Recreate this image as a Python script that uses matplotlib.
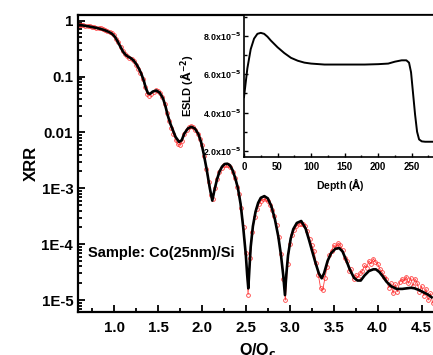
import numpy as np
import matplotlib
matplotlib.use('Agg')
import matplotlib.pyplot as plt
from matplotlib.ticker import FixedLocator, FuncFormatter, MultipleLocator

plt.rcParams['font.family'] = ['Liberation Sans', 'DejaVu Sans']
plt.rcParams['font.weight'] = 'bold'
plt.rcParams['mathtext.default'] = 'bf'

# measured reflectivity (log10 R), Q/Qc steps of 0.025
q_meas = np.arange(0.600, 4.6251, 0.025)
logr_meas = [
    -0.07, -0.075, -0.085, -0.09, -0.095, -0.10, -0.11, -0.115, -0.125, -0.13,
    -0.14, -0.155, -0.17, -0.185, -0.205, -0.23, -0.265, -0.325, -0.39, -0.47,
    -0.545, -0.60, -0.635, -0.665, -0.69, -0.73, -0.79, -0.86, -0.94, -1.05,
    -1.18, -1.31, -1.34, -1.31, -1.27, -1.245, -1.26, -1.30, -1.37, -1.50,
    -1.65, -1.80, -1.92, -2.03, -2.13, -2.21, -2.22, -2.16, -2.03, -1.96,
    -1.91, -1.89, -1.91, -1.95, -2.02, -2.12, -2.23, -2.43, -2.66, -2.88,
    -3.12, -3.20, -3.00, -2.84, -2.71, -2.63, -2.585, -2.575, -2.58, -2.62,
    -2.70, -2.82, -2.97, -3.10, -3.36, -3.70, -4.15, -4.90, -4.25, -3.78,
    -3.52, -3.37, -3.28, -3.22, -3.20, -3.20, -3.23, -3.29, -3.38, -3.50,
    -3.66, -3.88, -4.18, -4.62, -5.00, -4.35, -4.00, -3.84, -3.75, -3.68,
    -3.64, -3.63, -3.63, -3.68, -3.77, -3.90, -4.02, -4.12, -4.33, -4.55,
    -4.78, -4.82, -4.60, -4.40, -4.20, -4.12, -4.02, -4.05, -3.98, -4.02,
    -4.10, -4.25, -4.30, -4.48, -4.45, -4.62, -4.55, -4.60, -4.52, -4.48,
    -4.38, -4.42, -4.30, -4.35, -4.26, -4.32, -4.35, -4.45, -4.50, -4.58,
    -4.62, -4.78, -4.70, -4.88, -4.72, -4.85, -4.68, -4.62, -4.66, -4.58,
    -4.70, -4.60, -4.75, -4.62, -4.70, -4.85, -4.75, -4.92, -4.80, -5.00,
    -4.88, -5.05,
]

# fitted reflectivity curve (log10 R)
q_fit = [
    0.59, 0.65, 0.70, 0.75, 0.80, 0.85, 0.90, 0.95, 0.98, 1.01,
    1.04, 1.07, 1.10, 1.13, 1.16, 1.19, 1.22, 1.25, 1.28, 1.31,
    1.34, 1.36, 1.387, 1.41, 1.44, 1.48, 1.52, 1.557, 1.585, 1.61,
    1.64, 1.67, 1.70, 1.74, 1.77, 1.80, 1.84, 1.88, 1.92, 1.96,
    1.99, 2.02, 2.055, 2.09, 2.118, 2.14, 2.17, 2.20, 2.23, 2.26,
    2.29, 2.32, 2.35, 2.38, 2.41, 2.44, 2.47, 2.50, 2.515, 2.528,
    2.54, 2.555, 2.58, 2.61, 2.64, 2.67, 2.71, 2.75, 2.79, 2.83,
    2.87, 2.90, 2.925, 2.945, 2.96, 2.98, 3.01, 3.04, 3.08, 3.13,
    3.18, 3.22, 3.25, 3.29, 3.33, 3.363, 3.39, 3.43, 3.47, 3.52,
    3.563, 3.60, 3.64, 3.685, 3.73, 3.77, 3.807, 3.85, 3.90, 3.95,
    3.98, 4.02, 4.06, 4.10, 4.15, 4.216, 4.28, 4.33, 4.38, 4.42,
    4.47, 4.52, 4.57, 4.614,
]
logr_fit = [
    -0.075, -0.088, -0.10, -0.115, -0.13, -0.15, -0.175, -0.21, -0.24, -0.29,
    -0.37, -0.46, -0.55, -0.61, -0.645, -0.67, -0.71, -0.77, -0.85, -0.95,
    -1.08, -1.20, -1.30, -1.31, -1.27, -1.25, -1.29, -1.39, -1.53, -1.69,
    -1.84, -1.96, -2.08, -2.17, -2.14, -2.02, -1.93, -1.90, -1.93, -2.03,
    -2.17, -2.38, -2.67, -3.00, -3.22, -3.05, -2.85, -2.70, -2.61, -2.565,
    -2.56, -2.59, -2.68, -2.82, -3.00, -3.28, -3.70, -4.20, -4.55, -4.79,
    -4.45, -4.05, -3.68, -3.42, -3.26, -3.17, -3.14, -3.18, -3.32, -3.55,
    -3.87, -4.20, -4.55, -4.91, -4.55, -4.20, -3.90, -3.73, -3.62, -3.585,
    -3.72, -3.93, -4.10, -4.32, -4.52, -4.61, -4.52, -4.30, -4.16, -4.08,
    -4.07, -4.13, -4.28, -4.46, -4.60, -4.65, -4.65, -4.56, -4.48, -4.45,
    -4.45, -4.50, -4.58, -4.67, -4.75, -4.80, -4.80, -4.79, -4.78, -4.79,
    -4.82, -4.86, -4.90, -4.95,
]

# electron scattering length density profile (units of 1e-5 A^-2)
depth = [0, 5, 10, 15, 20, 25, 30, 35, 40, 50, 60, 70, 80, 90, 100, 120,
         150, 180, 200, 215, 225, 235, 242, 246, 249, 252, 255, 258, 261,
         265, 270, 290]
esld = [4.8, 6.3, 7.3, 7.85, 8.1, 8.15, 8.1, 7.95, 7.75, 7.4, 7.1, 6.85,
        6.7, 6.6, 6.55, 6.5, 6.5, 6.5, 6.52, 6.55, 6.65, 6.72, 6.72, 6.6,
        6.1, 5.0, 3.9, 3.0, 2.6, 2.5, 2.48, 2.48]

ytick_vals = [1, 0.1, 0.01, 1e-3, 1e-4, 1e-5]
ytick_text = ['1', '0.1', '0.01', '1E-3', '1E-4', '1E-5']


fig = plt.figure(figsize=(4.33, 3.55), dpi=100)
fig.patch.set_facecolor('white')

W, H = 433., 355.
ax = fig.add_axes([78 / W, 1 - 311.7 / H, (437 - 78) / W, (311.7 - 15) / H])
ax.semilogy(q_meas, 10 ** np.array(logr_meas), 'o-', color='#ff2a2a',
            ms=2.7, mfc='none', mew=0.6, lw=0.6, alpha=0.9, zorder=2)
ax.semilogy(q_fit, 10 ** np.array(logr_fit), '-', color='black', lw=1.9,
            zorder=3)
ax.set_xlim(0.59, 4.675)
ax.set_ylim(6.2e-6, 1.26)
ax.yaxis.set_major_locator(FixedLocator(ytick_vals))
ax.yaxis.set_major_formatter(
    FuncFormatter(lambda v, p: ytick_text[ytick_vals.index(v)]
                  if v in ytick_vals else ''))
ax.xaxis.set_major_locator(MultipleLocator(0.5))
ax.xaxis.set_minor_locator(MultipleLocator(0.25))
ax.xaxis.set_major_formatter(FuncFormatter(lambda v, p: '%.1f' % v))
ax.tick_params(which='both', direction='in', labelsize=10.8, width=1.3)
ax.tick_params(which='major', length=5)
ax.tick_params(which='minor', length=3)
ax.tick_params(axis='x', pad=7)
for s in ax.spines.values():
    s.set_linewidth(1.6)
ax.set_ylabel('XRR', fontsize=12, fontweight='bold', labelpad=2)
ax.set_xlabel('Q/Q$_\\mathbf{c}$', fontsize=11.5, fontweight='bold',
              labelpad=4)
ax.text(88 / W, 1 - 253.3 / H, 'Sample: Co(25nm)/Si',
        transform=fig.transFigure, fontsize=10.5, fontweight='bold',
        va='center')

# inset: ESLD depth profile
axi = fig.add_axes([244 / W, 1 - 157.3 / H, (437 - 244) / W,
                    (157.3 - 15) / H])
axi.plot(depth, np.array(esld) * 1e-5, color='black', lw=1.4)
axi.set_xlim(0, 287.7)
axi.set_ylim(1.67e-5, 9.08e-5)
axi.xaxis.set_major_locator(MultipleLocator(50))
axi.xaxis.set_minor_locator(MultipleLocator(25))
axi.yaxis.set_major_locator(FixedLocator([2e-5, 4e-5, 6e-5, 8e-5]))
axi.yaxis.set_minor_locator(FixedLocator([3e-5, 5e-5, 7e-5, 9e-5]))
axi.yaxis.set_major_formatter(
    FuncFormatter(lambda v, p: '%.1fx10$^{-5}$' % (v * 1e5)))
axi.tick_params(which='both', direction='in', width=1.0)
axi.tick_params(axis='y', labelsize=6.4, pad=2)
axi.tick_params(axis='x', labelsize=7)
axi.tick_params(which='major', length=3)
axi.tick_params(which='minor', length=1.8)
for s in axi.spines.values():
    s.set_linewidth(1.2)
axi.set_xlabel('Depth ($\\AA$)', fontsize=7.5, fontweight='bold',
               labelpad=3)
axi.set_ylabel('ESLD ($\\AA^{-2}$)', fontsize=8, fontweight='bold',
               labelpad=5)

fig.savefig('out.png', dpi=100, facecolor='white')
